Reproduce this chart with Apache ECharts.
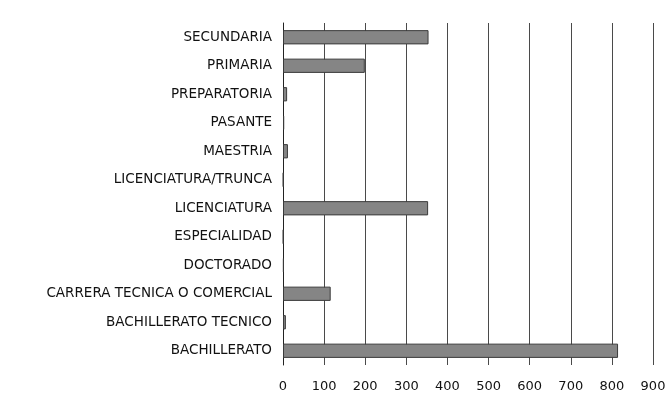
<!DOCTYPE html>
<html>
<head>
    <meta charset="UTF-8">
    <title>Escolaridad</title>
    <script src="https://cdn.jsdelivr.net/npm/echarts@6/dist/echarts.min.js"></script>
    <style>
        html, body { margin: 0; padding: 0; background: #fff; }
        #chart { width: 670px; height: 395px; }
    </style>
</head>
<body>
<div id="chart"></div>
<script>
    // categorias de arriba hacia abajo
    const categorias = [
        'SECUNDARIA', 'PRIMARIA', 'PREPARATORIA', 'PASANTE', 'MAESTRIA',
        'LICENCIATURA/TRUNCA', 'LICENCIATURA', 'ESPECIALIDAD', 'DOCTORADO',
        'CARRERA TECNICA O COMERCIAL', 'BACHILLERATO TECNICO', 'BACHILLERATO'
    ];
    const valores = [354, 199, 10, 3, 12, 1, 353, 1, 2, 116, 7, 815];
    const ejeX = { min: 0, max: 900, interval: 100 };

    const chart = echarts.init(document.getElementById('chart'));
    chart.setOption({
        animation: false,
        backgroundColor: '#fff',
        grid: { left: 283, right: 17, top: 23, bottom: 30 },
        xAxis: {
            type: 'value',
            min: ejeX.min,
            max: ejeX.max,
            interval: ejeX.interval,
            axisLine: { show: false },
            axisTick: { show: false },
            axisLabel: { color: '#111', fontSize: 13, fontFamily: 'DejaVu Sans', margin: 15 },
            splitLine: { show: true, lineStyle: { color: '#4a4a4a', width: 1 } }
        },
        yAxis: {
            type: 'category',
            inverse: true,
            data: categorias,
            axisLine: { show: true, lineStyle: { color: '#222', width: 1 } },
            axisTick: { show: false },
            axisLabel: { color: '#111', fontSize: 13.5, fontFamily: 'DejaVu Sans', margin: 11 }
        },
        series: [{
            type: 'bar',
            data: valores,
            barCategoryGap: '50%',
            itemStyle: { color: '#858585', borderColor: '#3a3a3a', borderWidth: 1 }
        }]
    });
</script>
</body>
</html>
